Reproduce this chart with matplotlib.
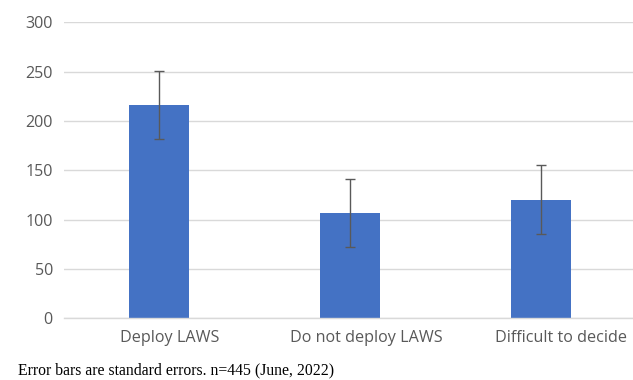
import matplotlib as mpl
mpl.use("agg")

import matplotlib.pyplot as plt
import numpy as np


categories = ["Deploy LAWS", "Do not deploy LAWS", "Difficult to decide"]
values = [216.5, 106.5, 120.5]
std_errors = [34.5, 34.6, 34.6]
yticks = [0, 50, 100, 150, 200, 250, 300]

footnote = "Error bars are standard errors. n=445 (June, 2022)"


if __name__ == "__main__":

    fig = plt.figure(figsize=(6.33, 3.8), dpi=100)
    ax = fig.add_axes([0.101, 0.162, 0.905, 0.779])

    x = np.arange(len(categories))
    ax.bar(x, values, width=0.314, color="#4472C4", zorder=2)
    ax.errorbar(x, values, yerr=std_errors, fmt="none",
                ecolor="#595959", elinewidth=1.0, capsize=3.5,
                capthick=1.0, zorder=3)

    ax.set_xlim(-0.5, len(categories) - 0.5)
    ax.set_ylim(0, 300)
    ax.set_yticks(yticks)
    # labels in the original sit a little right of the bars
    ax.set_xticks(x + np.array([0.056, 0.084, 0.105]))
    ax.set_xticklabels(categories)

    ax.grid(axis="y", color="#D9D9D9", linewidth=1.0, zorder=0)
    for side in ["top", "right", "left"]:
        ax.spines[side].set_visible(False)
    ax.spines["bottom"].set_color("#D9D9D9")
    ax.spines["bottom"].set_linewidth(1.0)

    ax.tick_params(axis="both", length=0, labelsize=11.6,
                   labelcolor="#595959")
    ax.tick_params(axis="y", pad=8)
    ax.tick_params(axis="x", pad=8)
    for lab in ax.get_xticklabels() + ax.get_yticklabels():
        lab.set_family(["Open Sans", "DejaVu Sans"])

    fig.text(0.028, 0.004, footnote, family=["Liberation Serif"],
             fontsize=11.3, color="black", ha="left", va="bottom")

    fig.savefig("out.png", dpi=100)
